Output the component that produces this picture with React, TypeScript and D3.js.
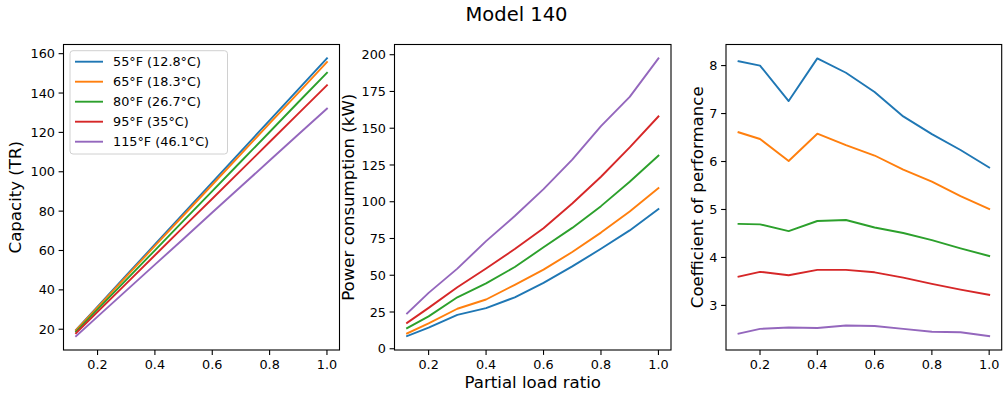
import React from "react";
import * as d3 from "d3";

const loadRatio = [0.125, 0.2, 0.3, 0.4, 0.5, 0.6, 0.7, 0.8, 0.9, 1.0];
const seriesNames = ["55°F (12.8°C)", "65°F (18.3°C)", "80°F (26.7°C)", "95°F (35°C)", "115°F (46.1°C)"];
const colors = ["#1f77b4", "#ff7f0e", "#2ca02c", "#d62728", "#9467bd"];

const capacity55 = [19.7, 31.5, 47.3, 63.1, 78.8, 94.6, 110.4, 126.1, 141.9, 157.6];
const capacity65 = [19.5, 31.1, 46.7, 62.3, 77.9, 93.4, 109.0, 124.6, 140.1, 155.7];
const capacity80 = [18.8, 30.1, 45.1, 60.1, 75.2, 90.2, 105.2, 120.2, 135.3, 150.3];
const capacity95 = [18.0, 28.8, 43.2, 57.6, 72.0, 86.3, 100.7, 115.1, 129.5, 143.9];
const capacity115 = [16.5, 26.4, 39.6, 52.8, 66.0, 79.3, 92.5, 105.7, 118.9, 132.1];

const power55 = [8.6, 14.3, 23.0, 27.6, 35.0, 44.8, 56.0, 68.0, 80.5, 95.0];
const power65 = [10.4, 17.2, 27.2, 33.5, 43.5, 53.8, 65.8, 79.0, 93.4, 109.3];
const power80 = [14.0, 22.0, 35.0, 44.5, 55.6, 69.0, 82.2, 97.0, 113.6, 131.4];
const power95 = [17.6, 27.8, 41.8, 54.6, 67.8, 82.0, 98.8, 117.0, 137.0, 158.0];
const power115 = [24.0, 38.0, 54.5, 73.2, 90.3, 108.6, 128.6, 151.4, 171.3, 197.5];

const cop55 = [8.09, 8.0, 7.26, 8.15, 7.85, 7.45, 6.94, 6.57, 6.24, 5.875];
const cop65 = [6.61, 6.47, 6.01, 6.58, 6.34, 6.125, 5.83, 5.58, 5.28, 5.01];
const cop80 = [4.70, 4.69, 4.55, 4.76, 4.78, 4.625, 4.51, 4.36, 4.19, 4.03];
const cop95 = [3.60, 3.70, 3.63, 3.74, 3.74, 3.69, 3.58, 3.45, 3.33, 3.22];
const cop115 = [2.41, 2.51, 2.54, 2.53, 2.58, 2.57, 2.51, 2.45, 2.44, 2.36];

const xTicks = [0.2, 0.4, 0.6, 0.8, 1.0];
const capTicks = [20, 40, 60, 80, 100, 120, 140, 160];
const powerTicks = [0, 25, 50, 75, 100, 125, 150, 175, 200];
const copTicks = [3, 4, 5, 6, 7, 8];

const FONT = "DejaVu Sans, sans-serif";
const TICK_FS = 12.8;
const LABEL_FS = 16.6;

type PanelProps = {
  left: number;
  right: number;
  series: number[][];
  yTicks: number[];
  yFmt: (v: number) => string;
  yLabel: string;
  yLabelX: number;
  xLabel?: string;
  legend?: boolean;
};

const TOP = 44.5;
const BOTTOM = 350;

function padded(vals: number[]): [number, number] {
  const mn = d3.min(vals)!;
  const mx = d3.max(vals)!;
  const m = (mx - mn) * 0.05;
  return [mn - m, mx + m];
}

function Panel({ left, right, series, yTicks, yFmt, yLabel, yLabelX, xLabel, legend }: PanelProps) {
  const x = d3.scaleLinear().domain(padded(loadRatio)).range([left, right]);
  const y = d3.scaleLinear().domain(padded(series.flat())).range([BOTTOM, TOP]);
  const line = d3
    .line<number>()
    .x((_, i) => x(loadRatio[i]))
    .y((v) => y(v));
  const midY = (TOP + BOTTOM) / 2;
  const midX = (left + right) / 2;
  return (
    <g>
      {series.map((s, i) => (
        <path key={i} d={line(s)!} fill="none" stroke={colors[i]} strokeWidth={1.9} strokeLinejoin="round" strokeLinecap="square" />
      ))}
      <rect x={left} y={TOP} width={right - left} height={BOTTOM - TOP} fill="none" stroke="#000" strokeWidth={1.1} />
      {xTicks.map((t) => (
        <g key={t}>
          <line x1={x(t)} x2={x(t)} y1={BOTTOM} y2={BOTTOM + 4.9} stroke="#000" strokeWidth={1.1} />
          <text x={x(t)} y={BOTTOM + 19} textAnchor="middle" fontSize={TICK_FS} fontFamily={FONT} fill="#000">
            {t.toFixed(1)}
          </text>
        </g>
      ))}
      {yTicks.map((t) => (
        <g key={t}>
          <line x1={left - 4.9} x2={left} y1={y(t)} y2={y(t)} stroke="#000" strokeWidth={1.1} />
          <text x={left - 8.5} y={y(t)} dy="0.36em" textAnchor="end" fontSize={TICK_FS} fontFamily={FONT} fill="#000">
            {yFmt(t)}
          </text>
        </g>
      ))}
      <text
        transform={`translate(${yLabelX},${midY}) rotate(-90)`}
        textAnchor="middle"
        dy="0.36em"
        fontSize={LABEL_FS}
        fontFamily={FONT}
        fill="#000"
      >
        {yLabel}
      </text>
      {xLabel && (
        <text x={midX} y={388} textAnchor="middle" fontSize={LABEL_FS} fontFamily={FONT} fill="#000">
          {xLabel}
        </text>
      )}
      {legend && (
        <g>
          <rect x={70} y={50.7} width={157.5} height={103.3} rx={3} ry={3} fill="#fff" fillOpacity={0.8} stroke="#d0d0d0" strokeWidth={1} />
          {seriesNames.map((n, i) => (
            <g key={n}>
              <line x1={75} x2={103} y1={61.7 + i * 20} y2={61.7 + i * 20} stroke={colors[i]} strokeWidth={1.9} />
              <text x={113} y={61.7 + i * 20} dy="0.36em" fontSize={TICK_FS} fontFamily={FONT} fill="#000">
                {n}
              </text>
            </g>
          ))}
        </g>
      )}
    </g>
  );
}

export default function App() {
  const capSeries = [capacity55, capacity65, capacity80, capacity95, capacity115];
  const powerSeries = [power55, power65, power80, power95, power115];
  const copSeries = [cop55, cop65, cop80, cop95, cop115];
  return (
    <svg
      width={1003}
      height={399}
      style={{ position: "absolute", left: 0, top: 0, background: "#fff" }}
    >
      <rect x={0} y={0} width={1003} height={399} fill="#fff" />
      <text x={516.5} y={14} dy="0.36em" textAnchor="middle" fontSize={19.5} fontFamily={FONT} fill="#000">
        Model 140
      </text>
      <Panel left={63.5} right={339.5} series={capSeries} yTicks={capTicks} yFmt={(v) => String(v)} yLabel="Capacity (TR)" yLabelX={15} legend />
      <Panel left={394.5} right={671} series={powerSeries} yTicks={powerTicks} yFmt={(v) => String(v)} yLabel="Power consumption (kW)" yLabelX={348} xLabel="Partial load ratio" />
      <Panel left={726} right={1001.7} series={copSeries} yTicks={copTicks} yFmt={(v) => String(v)} yLabel="Coefficient of performance" yLabelX={697} />
    </svg>
  );
}
